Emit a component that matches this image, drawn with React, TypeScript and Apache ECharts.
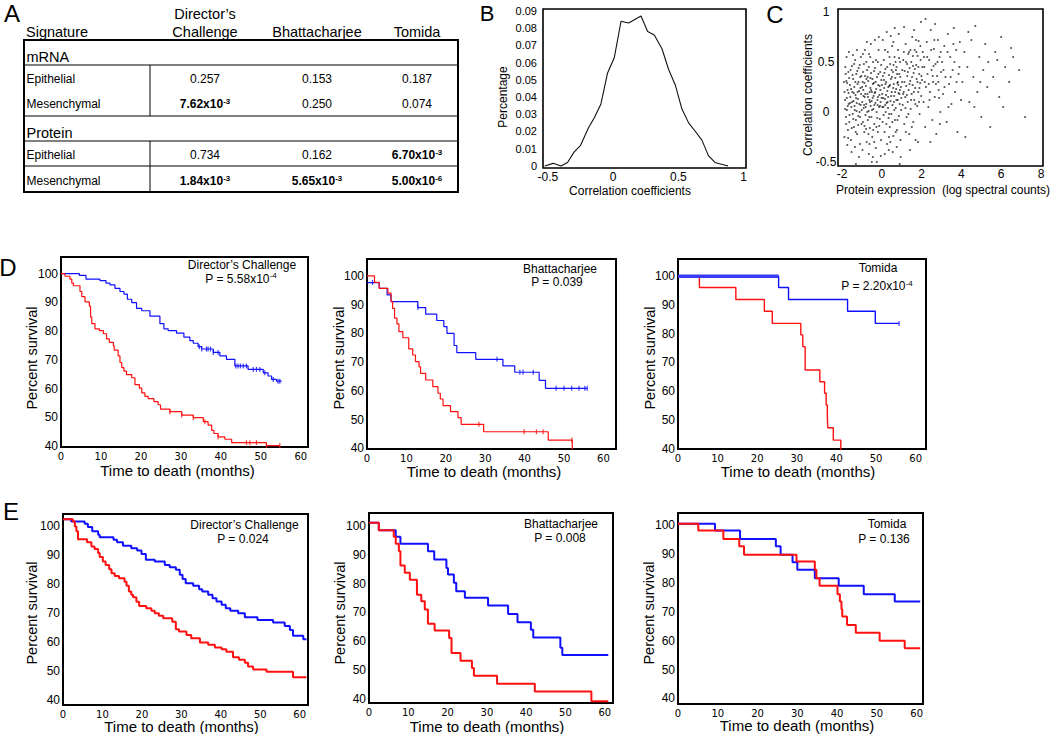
import React, { useEffect, useRef } from 'react';
import * as echarts from 'echarts';

// ---------- Panel A (table) ----------
const tableCols = ['Director’s\nChallenge', 'Bhattacharjee', 'Tomida'];
const mrnaRows = [
  ['Epithelial', '0.257', '0.153', '0.187'],
  ['Mesenchymal', '7.62x10^-3', '0.250', '0.074'],
];
const proteinRows = [
  ['Epithelial', '0.734', '0.162', '6.70x10^-3'],
  ['Mesenchymal', '1.84x10^-3', '5.65x10^-3', '5.00x10^-6'],
];

// ---------- Panel B (distribution) ----------
const bX = [-0.525, -0.46, -0.4, -0.35, -0.3, -0.25, -0.19, -0.145, -0.094, -0.043, 0.009, 0.06, 0.118, 0.213, 0.264, 0.315, 0.374, 0.425, 0.476, 0.527, 0.578, 0.63, 0.68, 0.73, 0.78, 0.83, 0.88];
const bY = [0, 0.0015, 0, 0.002, 0.008, 0.012, 0.022, 0.028, 0.036, 0.054, 0.063, 0.084, 0.083, 0.087, 0.078, 0.076, 0.068, 0.056, 0.047, 0.033, 0.025, 0.02, 0.015, 0.006, 0.002, 0.001, 0];
const bXTicks = [-0.5, 0, 0.5, 1];
const bYTicks = [0, 0.01, 0.02, 0.03, 0.04, 0.05, 0.06, 0.07, 0.08, 0.09];

// ---------- Panel C (scatter) ----------
const scatterC = [
  [-1.85,0.12],[-1.8,-0.05],[-1.78,0.31],[-1.75,0.02],[-1.72,0.22],[-1.7,-0.18],[-1.68,0.4],[-1.66,0.08],[-1.63,-0.1],[-1.6,0.27],[-1.58,0.15],[-1.55,-0.28],[-1.53,0.05],[-1.5,0.46],[-1.48,0.2],[-1.46,-0.02],[-1.44,0.33],[-1.42,0.11],[-1.4,-0.15],[-1.38,0.25],[-1.36,0.02],[-1.34,0.52],[-1.32,0.17],[-1.3,-0.08],[-1.28,0.38],[-1.26,0.09],[-1.24,-0.22],[-1.22,0.28],[-1.2,0.13],[-1.18,-0.04],[-1.16,0.44],[-1.14,0.21],[-1.12,0.0],[-1.1,-0.32],[-1.08,0.35],[-1.06,0.07],[-1.04,0.18],[-1.02,-0.12],[-1.9,0.3],[-1.88,-0.25],[-1.83,0.45],[-1.77,0.55],[-1.73,-0.33],[-1.65,0.6],[-1.52,-0.4],[-1.45,0.57],[-1.35,-0.35],[-1.25,0.62],[-1.15,-0.45],[-1.05,0.55],[-1.3,-0.52],
  [-0.98,0.1],[-0.96,0.3],[-0.95,-0.1],[-0.93,0.22],[-0.91,0.04],[-0.9,0.48],[-0.88,-0.2],[-0.86,0.15],[-0.84,0.36],[-0.82,-0.03],[-0.8,0.26],[-0.78,0.08],[-0.76,-0.3],[-0.74,0.42],[-0.72,0.18],[-0.7,-0.08],[-0.68,0.31],[-0.66,0.01],[-0.64,0.58],[-0.62,0.12],[-0.6,-0.16],[-0.58,0.24],[-0.56,0.06],[-0.54,0.39],[-0.52,-0.05],[-0.5,0.2],[-0.48,-0.25],[-0.46,0.14],[-0.44,0.5],[-0.42,0.03],[-0.4,0.29],[-0.38,-0.12],[-0.36,0.19],[-0.34,0.44],[-0.32,0.09],[-0.3,-0.36],[-0.28,0.23],[-0.26,0.0],[-0.24,0.35],[-0.22,0.12],[-0.2,-0.2],[-0.18,0.27],[-0.16,0.62],[-0.14,0.05],[-0.12,0.17],[-0.1,-0.07],[-0.08,0.4],[-0.06,0.1],[-0.04,-0.28],[-0.02,0.32],[-0.97,-0.38],[-0.85,0.62],[-0.75,0.7],[-0.65,-0.42],[-0.55,0.68],[-0.45,-0.45],[-0.35,0.72],[-0.25,-0.5],[-0.15,0.75],[-0.05,-0.44],[-0.92,0.16],[-0.81,0.05],[-0.71,0.35],[-0.61,0.2],[-0.51,0.11],[-0.41,0.16],[-0.31,0.3],[-0.21,0.07],[-0.11,0.26],[-0.01,0.14],[-0.87,-0.14],[-0.67,-0.22],[-0.47,0.33],[-0.27,-0.15],[-0.07,0.22],[-0.5,-0.5],
  [0.02,0.18],[0.04,-0.1],[0.06,0.36],[0.08,0.05],[0.1,0.52],[0.12,0.24],[0.14,-0.2],[0.16,0.13],[0.18,0.43],[0.2,0.0],[0.22,0.3],[0.24,0.09],[0.26,-0.32],[0.28,0.21],[0.3,0.6],[0.32,0.15],[0.34,-0.06],[0.36,0.37],[0.38,0.26],[0.4,-0.15],[0.42,0.48],[0.44,0.11],[0.46,0.33],[0.48,-0.02],[0.5,0.2],[0.52,0.66],[0.54,0.07],[0.56,0.4],[0.58,-0.24],[0.6,0.28],[0.62,0.16],[0.64,0.55],[0.66,-0.08],[0.68,0.34],[0.7,0.04],[0.72,0.23],[0.74,0.45],[0.76,-0.18],[0.78,0.29],[0.8,0.12],[0.82,0.62],[0.84,0.19],[0.86,-0.04],[0.88,0.38],[0.9,0.08],[0.92,0.5],[0.94,-0.28],[0.96,0.25],[0.98,0.14],[0.05,0.72],[0.15,-0.42],[0.25,0.8],[0.35,-0.38],[0.45,0.76],[0.55,-0.4],[0.65,0.84],[0.75,-0.35],[0.85,0.78],[0.95,-0.45],[0.11,0.32],[0.21,0.17],[0.31,0.04],[0.41,0.27],[0.51,0.35],[0.61,0.1],[0.71,0.42],[0.81,0.3],[0.91,0.22],[0.03,0.05],[0.43,-0.3],[0.9,-0.52],
  [1.02,0.3],[1.05,0.07],[1.08,0.52],[1.1,0.2],[1.13,-0.12],[1.15,0.41],[1.18,0.15],[1.2,0.68],[1.23,0.26],[1.25,-0.05],[1.28,0.36],[1.3,0.1],[1.33,0.58],[1.35,0.22],[1.38,-0.22],[1.4,0.44],[1.43,0.31],[1.45,0.03],[1.48,0.5],[1.5,0.18],[1.53,0.75],[1.55,0.27],[1.58,-0.1],[1.6,0.39],[1.63,0.12],[1.65,0.62],[1.68,0.24],[1.7,-0.28],[1.73,0.47],[1.75,0.33],[1.78,0.06],[1.8,0.56],[1.83,0.2],[1.85,0.71],[1.88,0.38],[1.9,-0.02],[1.93,0.29],[1.95,0.52],[1.98,0.16],[1.12,0.85],[1.42,-0.38],[1.62,0.82],[1.82,-0.3],[1.97,0.9],[1.27,0.48],[1.57,0.46],[1.87,0.1],[1.37,0.6],
  [2.02,0.32],[2.06,0.6],[2.1,0.1],[2.14,0.45],[2.18,-0.15],[2.22,0.25],[2.26,0.7],[2.3,0.38],[2.34,0.05],[2.38,0.52],[2.42,0.2],[2.46,0.82],[2.5,0.42],[2.54,-0.08],[2.58,0.3],[2.62,0.63],[2.66,0.15],[2.7,0.48],[2.74,-0.22],[2.78,0.36],[2.82,0.72],[2.86,0.22],[2.9,0.55],[2.94,0.0],[2.98,0.4],[2.2,0.93],[2.44,-0.3],[2.68,0.88],[2.92,-0.12],[2.12,0.55],[2.36,0.28],[2.6,0.46],[2.84,0.3],
  [3.03,0.5],[3.08,0.18],[3.14,0.66],[3.2,0.35],[3.26,-0.1],[3.32,0.78],[3.38,0.28],[3.44,0.55],[3.5,0.08],[3.56,0.42],[3.62,0.84],[3.68,0.2],[3.74,0.62],[3.8,-0.2],[3.86,0.38],[3.92,0.7],[3.98,0.12],[3.35,0.05],[3.65,0.5],[3.15,0.25],[3.9,0.45],
  [4.05,0.3],[4.15,0.6],[4.2,-0.25],[4.3,0.45],[4.4,0.1],[4.5,0.72],[4.6,0.35],[4.7,0.86],[4.8,0.2],[4.9,0.55],[5.0,-0.05],[5.1,0.42],[5.2,0.68],[5.3,0.25],[5.45,-0.15],[4.35,0.8],[4.65,0.05],[4.95,0.3],[5.35,0.5],
  [5.6,0.35],[5.7,0.6],[5.9,0.15],[6.0,0.75],[6.2,0.45],[6.4,0.3],[6.6,0.55],[6.9,0.42],[7.2,-0.05],[6.1,0.05],[5.8,0.52],[6.5,0.64],
];
const scatterCCore = [
  [-1.87,0.2],[-1.84,0.03],[-1.81,0.38],[-1.79,-0.12],[-1.76,0.14],[-1.74,0.29],[-1.71,0.06],[-1.69,-0.26],[-1.67,0.19],[-1.64,0.34],[-1.62,-0.03],[-1.59,0.09],[-1.57,0.42],[-1.54,0.23],[-1.51,-0.16],[-1.49,0.1],[-1.47,0.37],[-1.43,-0.07],[-1.41,0.19],[-1.39,0.48],[-1.37,0.06],[-1.33,0.3],[-1.31,-0.2],[-1.29,0.14],[-1.27,0.01],[-1.23,0.41],[-1.21,0.2],[-1.19,-0.13],[-1.17,0.3],[-1.13,0.08],[-1.11,0.47],[-1.09,-0.05],[-1.07,0.24],[-1.03,0.36],[-1.01,0.02],
  [-0.99,0.25],[-0.94,0.4],[-0.89,0.07],[-0.87,0.29],[-0.83,0.18],[-0.79,-0.17],[-0.77,0.33],[-0.73,0.0],[-0.69,0.15],[-0.65,0.45],[-0.63,-0.05],[-0.59,0.1],[-0.57,0.34],[-0.53,0.22],[-0.49,0.02],[-0.45,0.28],[-0.43,-0.18],[-0.39,0.41],[-0.37,0.07],[-0.33,0.2],[-0.29,0.52],[-0.23,-0.06],[-0.19,0.15],[-0.17,0.38],[-0.13,-0.14],[-0.09,0.06],[-0.03,0.47],[-0.58,0.55],[-0.78,0.5],[-0.38,-0.3],[-0.62,-0.32],[-0.95,0.58],[-0.2,0.5],
  [0.01,0.27],[0.07,0.14],[0.09,-0.03],[0.13,0.39],[0.17,0.07],[0.19,0.28],[0.23,-0.12],[0.27,0.45],[0.29,0.1],[0.33,0.25],[0.37,-0.02],[0.39,0.55],[0.47,0.16],[0.49,0.42],[0.53,-0.1],[0.57,0.24],[0.59,0.47],[0.63,0.02],[0.67,0.2],[0.69,0.5],[0.73,0.12],[0.77,0.38],[0.79,-0.08],[0.83,0.27],[0.87,0.54],[0.89,0.18],[0.93,0.35],[0.97,0.02],[0.16,0.62],[0.58,0.7],[0.36,-0.25],[0.7,-0.2],
  [1.03,0.42],[1.07,0.18],[1.11,0.6],[1.14,0.3],[1.19,0.04],[1.22,0.5],[1.26,0.17],[1.31,0.4],[1.34,-0.02],[1.39,0.28],[1.44,0.62],[1.47,0.12],[1.52,0.35],[1.56,0.56],[1.61,0.2],[1.66,0.43],[1.69,0.08],[1.74,0.6],[1.79,0.3],[1.84,0.45],[1.89,0.24],[1.94,0.66],[1.99,0.36],[1.21,-0.2],[1.51,-0.15],[1.72,0.72],
  [2.04,0.45],[2.16,0.3],[2.28,0.55],[2.4,0.12],[2.48,0.62],[2.56,0.36],[2.64,0.72],[2.72,0.28],[2.8,0.5],[2.88,0.14],[2.96,0.6],[3.1,0.42],[3.3,0.6],[3.46,0.35],[3.6,0.68],[3.76,0.3],
];
const cXTicks = [-2, 0, 2, 4, 6, 8];
const cYTicks = [-0.5, 0, 0.5, 1];

// ---------- Panels D / E (Kaplan–Meier) ----------
const monthTicks = [0, 10, 20, 30, 40, 50, 60];
const survivalTicks = [40, 50, 60, 70, 80, 90, 100];

const dcDBlue = [[0,100],[4.6,99.4],[6.25,98.1],[9.75,97.6],[11.25,96.7],[12.25,96.1],[13.5,94.9],[14.75,93.8],[15.75,92.9],[16.6,91.1],[17.7,89.9],[18.9,87.9],[20.2,87.1],[22.25,85.2],[24.75,82.6],[25.75,80.8],[26.8,80.2],[28.9,79.3],[30.75,77.9],[32.25,76.7],[33.1,75.8],[34.3,74.6],[35.2,73.8],[38.1,72.6],[39.75,71.4],[41.4,70.2],[43.5,67.9],[46.8,66.7],[50.6,65.5],[51.8,64.4],[52.7,63.2],[53.9,62.6],[55.2,62.6]];
const dcDRed = [[0,100],[1.0,99.1],[2.25,98.1],[2.7,96.7],[3.1,95.8],[4.75,93.8],[5.2,92.0],[6.0,90.2],[7.1,88.7],[7.4,84.9],[7.7,82.6],[8.5,80.8],[9.6,80.2],[10.6,79.1],[11.4,77.3],[12.1,76.1],[13.1,74.9],[13.3,73.4],[14.3,71.4],[14.75,69.1],[15.2,67.3],[15.75,66.1],[16.4,64.9],[17.7,63.8],[18.5,61.4],[19.6,60.2],[20.2,58.5],[21.0,57.3],[21.8,56.5],[23.25,55.5],[24.3,54.4],[24.9,52.9],[27.25,52.0],[30.2,50.8],[33.1,49.9],[35.6,48.5],[36.8,47.3],[37.7,45.5],[38.25,44.4],[39.3,43.2],[41.0,42.4],[42.7,41.2],[51.4,40.2],[54.75,40.2]];
const dcDBlueCensor = [34.6,35.2,36.4,36.8,37.4,38.1,39.3,43.75,44.3,44.9,45.6,46.4,48.1,48.9,49.75,51,53.1,54.3,54.75];
const dcDRedCensor = [27.25,30.2,33.1,36,39.3,46.4,47.25,48.9,51.4,54.75];

const bhDBlue = [[0,97.7],[3.1,95.7],[5.1,93.4],[6.1,91.1],[12.9,89.0],[14.9,86.7],[17.7,84.5],[19.5,82.4],[20.3,80.0],[22.1,75.8],[22.8,73.3],[27.6,71.0],[34.5,68.7],[37.5,66.5],[43.7,63.7],[45.3,60.9],[55.9,60.9]];
const bhDRed = [[0,100],[1.9,97.8],[3.1,95.7],[5.3,94.0],[6.1,91.1],[6.5,88.7],[7.0,85.3],[7.6,83.3],[8.1,80.6],[9.1,78.5],[10.6,74.6],[11.6,72.5],[12.3,70.2],[13.2,68.4],[13.6,66.1],[14.9,63.8],[16.7,61.5],[18.0,59.2],[18.6,57.2],[19.3,54.9],[21.2,52.8],[23.1,50.7],[23.9,48.4],[29.6,45.8],[46.0,42.9],[52.1,38]];
const bhDBlueCensor = [1.4,12.9,33.0,38.8,39.6,42.2,48.0,50.0,51.95,53.8,55.3,55.9];
const bhDRedCensor = [28.4,39.9,43.0,44.7,52.0];

const toDBlue = [[0,100],[25.4,96.1],[27.9,91.9],[42.8,87.8],[49.8,83.6],[55.8,83.6]];
const toDBlueEarly = [[0,100],[25.4,100]];
const toDRed = [[0,100],[5.4,96.1],[14.6,91.9],[21.8,87.8],[23.8,83.6],[31.0,79.6],[31.5,75.5],[32.1,67.4],[35.8,63.3],[37.0,59.3],[37.4,55.2],[37.7,51.2],[37.8,47.3],[39.2,43.0],[41.1,38]];
const toDBlueCensor = [55.8];

const dcEBlue = [[0,102.5],[2.1,101.7],[5.5,100.9],[6.3,99.8],[7.4,98.3],[8.9,97.1],[9.3,96.3],[12.8,95.4],[13.7,94.5],[15.2,93.3],[17.3,92.5],[18.8,91.7],[19.9,90.5],[21.0,88.5],[23.25,87.9],[25.8,86.7],[27.05,85.9],[28.6,85.0],[29.6,83.3],[30.3,81.8],[31.1,80.4],[33.0,79.5],[34.5,78.3],[35.3,77.5],[36.8,76.4],[37.9,75.2],[38.9,74.1],[40.2,72.9],[41.25,71.7],[42.4,70.9],[44.4,70.0],[46.1,68.6],[49.3,67.7],[53.25,66.8],[56.2,65.6],[57.5,64.2],[58.3,62.2],[60.9,61.0],[61.7,61.0]];
const dcERed = [[0,102.5],[2.5,101.7],[3.0,100.0],[3.4,98.3],[3.8,95.6],[6.1,94.5],[7.2,93.1],[8.0,92.2],[8.9,90.8],[9.3,89.4],[10.1,87.9],[10.8,86.7],[11.7,85.2],[12.3,83.8],[13.1,82.9],[14.2,82.1],[15.6,80.9],[16.1,79.5],[16.7,77.5],[17.3,76.4],[17.75,75.5],[18.6,74.0],[19.3,72.5],[21.1,71.7],[22.4,70.9],[23.25,70.0],[24.3,69.1],[25.4,68.3],[27.7,67.1],[28.6,64.5],[29.4,63.7],[31.3,62.5],[32.5,61.4],[34.7,59.9],[36.8,59.1],[38.5,58.2],[40.2,57.6],[41.4,56.7],[43.1,54.8],[44.6,53.9],[46.1,52.9],[46.9,51.6],[48.2,50.6],[51.6,49.8],[58.3,47.9],[61.7,47.9]];

const bhEBlue = [[0,101.2],[2.5,98.6],[6.8,96.3],[8.0,93.9],[15.0,91.3],[16.6,88.4],[19.7,85.5],[20.1,83.2],[21.6,80.3],[22.2,77.4],[24.4,75.1],[30.3,72.4],[35.4,69.5],[37.8,66.6],[41.2,64.0],[41.8,61.3],[48.7,57.7],[49.2,55.2],[60.9,55.2]];
const bhERed = [[0,101.2],[2.5,98.6],[6.3,96.3],[6.8,93.9],[7.6,91.3],[8.0,86.3],[9.1,83.8],[10.4,81.4],[12.2,76.2],[13.3,73.9],[14.2,71.0],[15.0,66.1],[16.7,63.7],[20.4,61.1],[21.0,55.9],[23.3,53.2],[26.2,50.7],[26.7,48.0],[32.6,45.2],[42.2,42.5],[56.6,39.1],[60.9,39.1]];

const toEBlue = [[0,100.3],[9.3,98.0],[15.6,95.0],[24.6,92.5],[25.8,89.6],[28.8,87.0],[30.0,84.4],[34.4,81.5],[40.4,78.9],[46.7,76.0],[54.5,73.5],[60.9,73.5]];
const toERed = [[0,100.3],[5.1,98.0],[11.4,95.0],[15.4,92.5],[16.6,89.6],[29.8,87.3],[34.4,84.4],[34.8,81.5],[35.6,78.9],[40.1,76.0],[40.7,73.5],[41.1,70.8],[41.3,68.3],[42.5,65.4],[44.7,62.7],[50.7,59.9],[57.0,57.3],[60.9,57.3]];

const FONT = '"Liberation Sans", Arial, Helvetica, sans-serif';
const TICKFONT = '"DejaVu Sans", Verdana, sans-serif';
const BLUE = '#1010ff';
const RED = '#ff1010';

function valueAt(curve: number[][], t: number) {
  let v = curve[0][1];
  for (const [x, y] of curve) if (x <= t) v = y;
  return v;
}

function axis(gi: number, min: number, max: number, vals: number[], o: any = {}) {
  const label: any = {
    customValues: vals,
    showMinLabel: true,
    showMaxLabel: true,
    margin: o.margin ?? 4,
    fontSize: o.fontSize ?? 12,
    fontFamily: o.fontFamily ?? FONT,
    color: '#000',
  };
  if (o.formatter) label.formatter = o.formatter;
  if (o.align) label.align = o.align;
  return {
    type: 'value',
    gridIndex: gi,
    min,
    max,
    axisLine: { show: false },
    axisTick: { show: false },
    splitLine: { show: false },
    axisLabel: label,
  };
}

function txt(x: number, y: number, text: string, size: number, o: any = {}) {
  return {
    type: 'text',
    x,
    y,
    rotation: o.rotation ?? 0,
    z: 100,
    style: {
      text,
      fontSize: size,
      fontFamily: FONT,
      fontWeight: o.bold ? 'bold' : 'normal',
      fill: '#000',
      align: o.align ?? 'center',
      verticalAlign: 'middle',
      textAlign: o.align ?? 'center',
      textVerticalAlign: 'middle',
      rich: o.rich,
    },
  };
}

function cellText(x: number, y: number, s: string) {
  if (s.includes('^')) {
    const [base, exp] = s.split('^');
    return txt(x, y, `{b|${base}}{s|${exp}}`, 12, {
      rich: {
        b: { fontSize: 12, fontWeight: 'bold', fontFamily: FONT, fill: '#000', lineHeight: 14 },
        s: { fontSize: 8, fontWeight: 'bold', fontFamily: FONT, fill: '#000', verticalAlign: 'top', lineHeight: 14 },
      },
    });
  }
  return txt(x, y, s, 12);
}

function supTitle(x: number, y: number, s: string) {
  if (s.includes('^')) {
    const [base, exp] = s.split('^');
    return txt(x, y, `{n|${base}}{s|${exp}}`, 12, {
      rich: {
        n: { fontSize: 12, fontFamily: FONT, fill: '#000', lineHeight: 14 },
        s: { fontSize: 8, fontFamily: FONT, fill: '#000', verticalAlign: 'top', lineHeight: 14 },
      },
    });
  }
  return txt(x, y, s, 12);
}

function line(x1: number, y1: number, x2: number, y2: number, w = 1) {
  return { type: 'line', z: 100, shape: { x1, y1, x2, y2 }, style: { stroke: '#000', lineWidth: w } };
}

const kmSeries = (gi: number, data: number[][], color: string, width: number) => ({
  type: 'line',
  xAxisIndex: gi,
  yAxisIndex: gi,
  data,
  step: 'end',
  symbol: 'none',
  showSymbol: false,
  lineStyle: { color, width },
  itemStyle: { color },
  silent: true,
});

const censorSeries = (gi: number, curve: number[][], times: number[], color: string) => ({
  type: 'scatter',
  xAxisIndex: gi,
  yAxisIndex: gi,
  data: times.map((t) => [t, valueAt(curve, t)]),
  symbol: 'rect',
  symbolSize: [1.2, 5],
  itemStyle: { color },
  silent: true,
});

function buildOption() {
  const grids = [
    { left: 543, top: 9, width: 203, height: 159 }, // B
    { left: 838, top: 9, width: 205, height: 157 }, // C
    { left: 61, top: 257, width: 247, height: 190 }, // D1
    { left: 367, top: 259, width: 249, height: 190 }, // D2
    { left: 678, top: 259, width: 248, height: 190 }, // D3
    { left: 63, top: 514, width: 245, height: 191 }, // E1
    { left: 369, top: 513, width: 244, height: 190 }, // E2
    { left: 678, top: 513, width: 245, height: 191 }, // E3
  ].map((g, i) => ({
    ...g,
    show: true,
    borderColor: '#000',
    borderWidth: i < 2 ? 1.6 : 2,
    backgroundColor: 'transparent',
    containLabel: false,
  }));

  const kmX = (gi: number, max: number) => axis(gi, 0, max, monthTicks, { fontSize: 10, fontFamily: TICKFONT, margin: 4 });
  const kmY = (gi: number, min: number, max: number) => axis(gi, min, max, survivalTicks, { fontSize: 12, margin: 3 });

  const xAxis = [
    axis(0, -0.538, 1.018, bXTicks, { fontSize: 12, margin: 3 }),
    axis(1, -2.2, 8.1, cXTicks, { fontSize: 12, margin: 2 }),
    kmX(2, 61.8),
    kmX(3, 63.2),
    kmX(4, 62.6),
    kmX(5, 62.1),
    kmX(6, 62.1),
    kmX(7, 61.6),
  ];
  const yAxis = [
    axis(0, -0.0012, 0.0911, bYTicks, { fontSize: 11, margin: 6, formatter: (v: number) => (v === 0 ? '0' : v.toFixed(2)) }),
    axis(1, -0.54, 1.03, cYTicks, { fontSize: 12, margin: 12, align: 'center' }),
    kmY(2, 39.7, 105.8),
    kmY(3, 39.8, 105.9),
    kmY(4, 39.9, 106),
    kmY(5, 38.3, 104.3),
    kmY(6, 38.5, 104.6),
    kmY(7, 38.1, 104),
  ];

  const series: any[] = [
    {
      type: 'line',
      xAxisIndex: 0,
      yAxisIndex: 0,
      data: bX.map((x, i) => [x, bY[i]]),
      symbol: 'none',
      lineStyle: { color: '#111', width: 1.1 },
      silent: true,
    },
    {
      type: 'scatter',
      xAxisIndex: 1,
      yAxisIndex: 1,
      data: [...scatterC, ...scatterCCore],
      symbol: 'circle',
      symbolSize: 2.1,
      itemStyle: { color: 'rgba(0,0,0,0.8)' },
      silent: true,
    },
    kmSeries(2, dcDBlue, BLUE, 1.2),
    kmSeries(2, dcDRed, RED, 1.2),
    censorSeries(2, dcDBlue, dcDBlueCensor, BLUE),
    censorSeries(2, dcDRed, dcDRedCensor, RED),
    kmSeries(3, bhDBlue, BLUE, 1.2),
    kmSeries(3, bhDRed, RED, 1.2),
    censorSeries(3, bhDBlue, bhDBlueCensor, BLUE),
    censorSeries(3, bhDRed, bhDRedCensor, RED),
    kmSeries(4, toDRed, RED, 1.4),
    kmSeries(4, toDBlue, BLUE, 1.4),
    kmSeries(4, toDBlueEarly, '#3a3af0', 3.5),
    censorSeries(4, toDBlue, toDBlueCensor, BLUE),
    kmSeries(5, dcEBlue, BLUE, 2),
    kmSeries(5, dcERed, RED, 2),
    kmSeries(6, bhEBlue, BLUE, 2),
    kmSeries(6, bhERed, RED, 2),
    kmSeries(7, toEBlue, BLUE, 2),
    kmSeries(7, toERed, RED, 2),
  ];

  const colX = [205, 317, 417];
  const g: any[] = [];
  // panel letters
  g.push(txt(12, 13, 'A', 24));
  g.push(txt(487, 13, 'B', 22));
  g.push(txt(775, 14, 'C', 24));
  g.push(txt(8, 267, 'D', 24));
  g.push(txt(11, 511, 'E', 24));

  // table A
  g.push(txt(26, 31.5, 'Signature', 14.5, { align: 'left' }));
  g.push(txt(colX[0], 14, 'Director’s', 14.5));
  g.push(txt(colX[0], 31.5, 'Challenge', 14.5));
  g.push(txt(colX[1], 31.5, tableCols[1], 14.5));
  g.push(txt(colX[2], 31.5, tableCols[2], 14.5));
  g.push({ type: 'rect', z: 100, shape: { x: 24, y: 40, width: 434, height: 152 }, style: { fill: 'none', stroke: '#000', lineWidth: 2 } });
  g.push(line(24, 65, 458, 65));
  g.push(line(24, 116, 458, 116));
  g.push(line(24, 141, 458, 141));
  g.push(line(24, 166, 458, 166));
  g.push(line(150, 65, 150, 116));
  g.push(line(150, 141, 150, 192));
  g.push(txt(26.5, 57, 'mRNA', 14.5, { align: 'left' }));
  g.push(txt(26.5, 133, 'Protein', 14.5, { align: 'left' }));
  const rowY = [79, 104, 155, 181];
  [...mrnaRows, ...proteinRows].forEach((row, ri) => {
    g.push(txt(26.5, rowY[ri], row[0], 12, { align: 'left' }));
    for (let c = 1; c < 4; c++) g.push(cellText(colX[c - 1], rowY[ri], row[c]));
  });

  // panel B / C axis titles
  g.push(txt(503, 97, 'Percentage', 12, { rotation: Math.PI / 2 }));
  g.push(txt(630, 191, 'Correlation coefficients', 12));
  g.push(txt(808, 95, 'Correlation coefficients', 12, { rotation: Math.PI / 2 }));
  g.push(txt(943, 190, 'Protein expression  (log spectral counts)', 12));

  // KM titles
  g.push(txt(242, 264.5, 'Director’s Challenge', 12));
  g.push(supTitle(241, 278.5, 'P = 5.58x10^-4'));
  g.push(txt(560, 268.5, 'Bhattacharjee', 12));
  g.push(supTitle(557, 282, 'P = 0.039'));
  g.push(txt(878, 268, 'Tomida', 12));
  g.push(supTitle(877, 286, 'P = 2.20x10^-4'));
  g.push(txt(244.5, 525, 'Director’s Challenge', 12));
  g.push(supTitle(243, 538.5, 'P = 0.024'));
  g.push(txt(561, 523.5, 'Bhattacharjee', 12));
  g.push(supTitle(560, 538, 'P = 0.008'));
  g.push(txt(887, 523.5, 'Tomida', 12));
  g.push(supTitle(884, 538.5, 'P = 0.136'));

  // KM axis titles
  const ps = 'Percent survival';
  const tt = 'Time to death (months)';
  g.push(txt(32, 358, ps, 14.5, { rotation: Math.PI / 2 }));
  g.push(txt(339, 358, ps, 14.5, { rotation: Math.PI / 2 }));
  g.push(txt(650, 358, ps, 14.5, { rotation: Math.PI / 2 }));
  g.push(txt(32, 613, ps, 14.5, { rotation: Math.PI / 2 }));
  g.push(txt(340, 613, ps, 14.5, { rotation: Math.PI / 2 }));
  g.push(txt(649, 613, ps, 14.5, { rotation: Math.PI / 2 }));
  g.push(txt(177.5, 470, tt, 15));
  g.push(txt(484, 471.5, tt, 15));
  g.push(txt(798, 471.5, tt, 15));
  g.push(txt(181.5, 726, tt, 15));
  g.push(txt(487, 726, tt, 15));
  g.push(txt(797, 725, tt, 15));

  return {
    animation: false,
    backgroundColor: '#fff',
    textStyle: { fontFamily: FONT },
    grid: grids,
    xAxis,
    yAxis,
    series,
    graphic: { elements: g },
  };
}

export default function App() {
  const ref = useRef<HTMLDivElement>(null);
  useEffect(() => {
    document.body.style.margin = '0';
    const chart = echarts.init(ref.current!, null, { renderer: 'svg' });
    chart.setOption(buildOption() as any);
    return () => chart.dispose();
  }, []);
  return <div ref={ref} style={{ width: 1050, height: 734 }} />;
}
